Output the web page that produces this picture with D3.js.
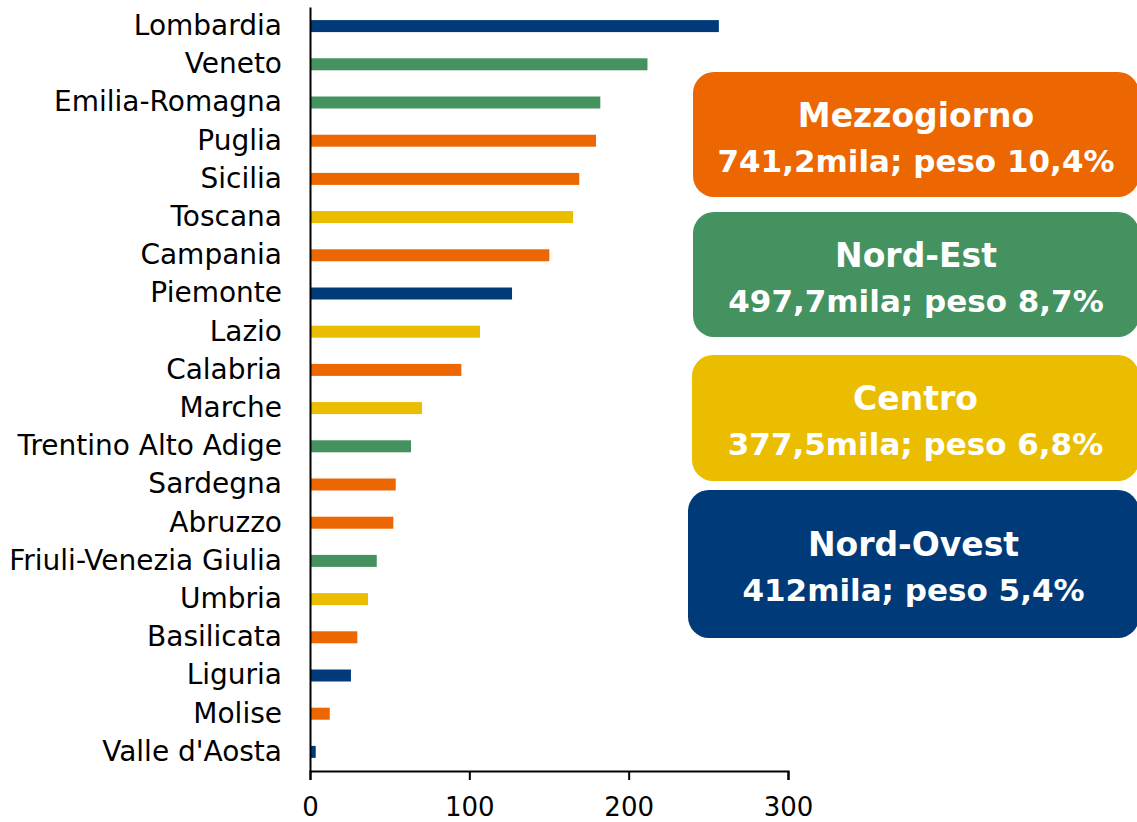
<!DOCTYPE html>
<html>
<head>
<meta charset="utf-8">
<script src="https://cdn.jsdelivr.net/npm/d3@7"></script>
<style>
body { margin: 0; background: #fff; }
svg { display: block; font-family: "DejaVu Sans", sans-serif; }
.domain { stroke: #000; stroke-width: 2px; }
.tick line { stroke: #000; stroke-width: 2px; }
.tick text { fill: #000; font-family: "DejaVu Sans", sans-serif; }
</style>
</head>
<body>
<svg width="1137" height="822"></svg>
<script>
// regions, sorted as in the chart
var regions = ["Lombardia", "Veneto", "Emilia-Romagna", "Puglia", "Sicilia", "Toscana",
  "Campania", "Piemonte", "Lazio", "Calabria", "Marche", "Trentino Alto Adige", "Sardegna",
  "Abruzzo", "Friuli-Venezia Giulia", "Umbria", "Basilicata", "Liguria", "Molise", "Valle d'Aosta"];
var values = [256.6, 211.8, 182.2, 179.5, 169, 165.1, 150.2, 126.8, 106.7, 95,
  70.3, 63.4, 53.8, 52.3, 41.9, 36.4, 29.7, 25.7, 12.4, 3.6];
var areaOf = ["Nord-Ovest", "Nord-Est", "Nord-Est", "Mezzogiorno", "Mezzogiorno", "Centro",
  "Mezzogiorno", "Nord-Ovest", "Centro", "Mezzogiorno", "Centro", "Nord-Est", "Mezzogiorno",
  "Mezzogiorno", "Nord-Est", "Centro", "Mezzogiorno", "Nord-Ovest", "Mezzogiorno", "Nord-Ovest"];
var xTicks = [0, 100, 200, 300];

var areas = ["Mezzogiorno", "Nord-Est", "Centro", "Nord-Ovest"];
var areaTotals = ["741,2mila", "497,7mila", "377,5mila", "412mila"];
var areaShares = ["10,4%", "8,7%", "6,8%", "5,4%"];
var areaColors = ["#EC6602", "#43925F", "#EBBD00", "#003A78"];

var color = d3.scaleOrdinal().domain(areas).range(areaColors);

var svg = d3.select("svg");
var data = regions.map(function(r, i) { return {region: r, val: values[i], area: areaOf[i]}; });

var xScale = d3.scaleLinear().domain([0, 300]).range([310, 788]);
var yScale = d3.scaleBand().domain(regions).range([7, 771])
  .paddingInner(0.686).paddingOuter(0.343);

svg.selectAll(".bar")
  .data(data)
  .enter()
  .append("rect")
  .attr("class", "bar")
  .attr("x", xScale(0))
  .attr("y", function(d) { return yScale(d.region); })
  .attr("width", function(d) { return xScale(d.val) - xScale(0); })
  .attr("height", yScale.bandwidth())
  .attr("fill", function(d) { return color(d.area); });

svg.append("g")
  .attr("transform", "translate(310,0)")
  .call(d3.axisLeft(yScale).tickSize(0).tickPadding(28))
  .call(function(g) {
    g.attr("font-family", null);
    g.selectAll("text").style("font-size", "28px");
  });

svg.append("g")
  .attr("transform", "translate(0,771)")
  .call(d3.axisBottom(xScale).tickValues(xTicks).tickSize(9).tickPadding(18).tickSizeOuter(9))
  .call(function(g) {
    g.attr("font-family", null);
    g.selectAll("text").style("font-size", "26px");
  });

// macro-area boxes on the right
var boxLayout = [
  {x: 693, y: 72, h: 125},
  {x: 693, y: 212, h: 125},
  {x: 692, y: 355, h: 126},
  {x: 688, y: 490, h: 148}
];

var boxes = svg.selectAll(".box")
  .data(areas)
  .enter()
  .append("g")
  .attr("class", "box")
  .attr("transform", function(d, i) { return "translate(" + boxLayout[i].x + "," + boxLayout[i].y + ")"; });

boxes.append("rect")
  .attr("width", function(d, i) { return 1139 - boxLayout[i].x; })
  .attr("height", function(d, i) { return boxLayout[i].h; })
  .attr("rx", 21)
  .attr("fill", function(d) { return color(d); });

boxes.append("text")
  .attr("x", function(d, i) { return (1139 - boxLayout[i].x) / 2; })
  .attr("y", function(d, i) { return boxLayout[i].h / 2 - 8; })
  .attr("text-anchor", "middle")
  .attr("fill", "#fff")
  .style("font-weight", "bold")
  .style("font-size", "33px")
  .text(function(d) { return d; });

boxes.append("text")
  .attr("x", function(d, i) { return (1139 - boxLayout[i].x) / 2; })
  .attr("y", function(d, i) { return boxLayout[i].h / 2 + 37; })
  .attr("text-anchor", "middle")
  .attr("fill", "#fff")
  .style("font-weight", "bold")
  .style("font-size", "31px")
  .text(function(d, i) { return areaTotals[i] + "; peso " + areaShares[i]; });
</script>
</body>
</html>
